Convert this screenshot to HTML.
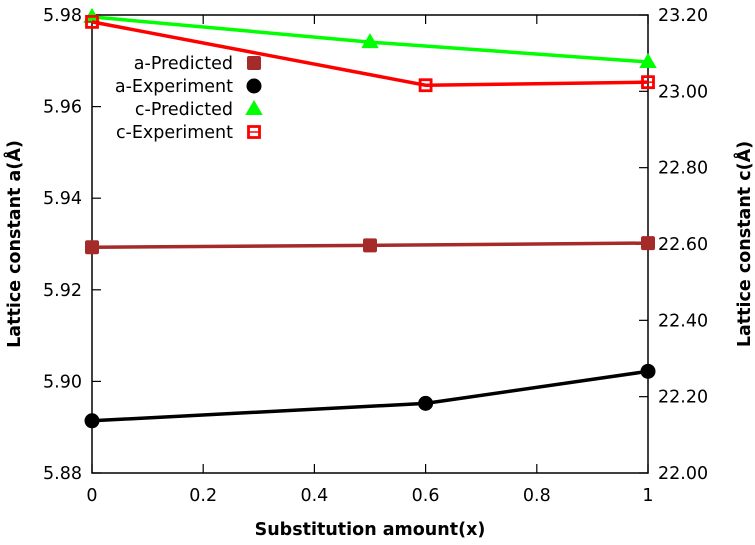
<!DOCTYPE html>
<html><head><meta charset="utf-8"><style>
html,body{margin:0;padding:0;background:#fff;}
svg text{font-family:"DejaVu Sans","Liberation Sans",sans-serif;font-size:17.5px;fill:#000;}
</style></head><body>
<svg id="chart" width="755" height="540">
<g id="axes"></g><g id="series"></g><g id="legend"></g>
</svg>
<script>
const xTicks=[0,0.2,0.4,0.6,0.8,1];
const xTickLabels=["0","0.2","0.4","0.6","0.8","1"];
const yLeftTicks=[5.88,5.90,5.92,5.94,5.96,5.98];
const yLeftLabels=["5.88","5.90","5.92","5.94","5.96","5.98"];
const yRightTicks=[22.0,22.2,22.4,22.6,22.8,23.0,23.2];
const yRightLabels=["22.00","22.20","22.40","22.60","22.80","23.00","23.20"];
const aPredX=[0,0.5,1];
const aPredY=[5.9293,5.9297,5.9302];
const aExpX=[0,0.6,1];
const aExpY=[5.8914,5.8952,5.9022];
const cPredX=[0,0.5,1];
const cPredY=[23.195,23.129,23.077];
const cExpX=[0,0.6,1];
const cExpY=[23.182,23.016,23.024];

const L=92,R=648,T=15,B=473;
const sx=v=>L+(v-0)/(1-0)*(R-L);
const syL=v=>B-(v-5.88)/(0.10)*(B-T);
const syR=v=>B-(v-22.0)/(1.2)*(B-T);
const NS="http://www.w3.org/2000/svg";
function mk(tag,attrs,parent){const e=document.createElementNS(NS,tag);for(const k in attrs)e.setAttribute(k,attrs[k]);parent.appendChild(e);return e;}
const axes=document.getElementById('axes'),ser=document.getElementById('series'),leg=document.getElementById('legend');

let f=mk('rect',{x:L,y:T,width:R-L,height:B-T,fill:'none',stroke:'#000','stroke-width':1.5},axes);

xTicks.forEach((v,i)=>{
  mk('line',{x1:sx(v),x2:sx(v),y1:B,y2:B-9,stroke:'#000','stroke-width':1.2},axes);
  mk('line',{x1:sx(v),x2:sx(v),y1:T,y2:T+9,stroke:'#000','stroke-width':1.2},axes);
  let t=mk('text',{x:sx(v),y:501,'text-anchor':'middle'},axes);t.textContent=xTickLabels[i];
  
});
yLeftTicks.forEach((v,i)=>{
  mk('line',{x1:L,x2:L+9,y1:syL(v),y2:syL(v),stroke:'#000','stroke-width':1.2},axes);
  let t=mk('text',{x:82,y:syL(v)+6,'text-anchor':'end'},axes);t.textContent=yLeftLabels[i];
  
});
yRightTicks.forEach((v,i)=>{
  mk('line',{x1:R,x2:R-9,y1:syR(v),y2:syR(v),stroke:'#000','stroke-width':1.2},axes);
  let t=mk('text',{x:658,y:syR(v)+6,'text-anchor':'start'},axes);t.textContent=yRightLabels[i];
  
});
let xt=mk('text',{x:370,y:535,'text-anchor':'middle','font-weight':'bold'},axes);xt.textContent='Substitution amount(x)';

let yl=mk('text',{x:0,y:0,'text-anchor':'middle','font-weight':'bold',transform:'translate(20,244) rotate(-90)'},axes);yl.textContent='Lattice constant a(Å)';

let yr=mk('text',{x:0,y:0,'text-anchor':'middle','font-weight':'bold',transform:'translate(750,244) rotate(-90)'},axes);yr.textContent='Lattice constant c(Å)';


function marker(kind,color,x,y,parent){
  if(kind==='sq') return mk('rect',{x:x-7,y:y-7,width:14,height:14,rx:2,fill:color},parent);
  if(kind==='circ') return mk('circle',{cx:x,cy:y,r:7.5,fill:color},parent);
  if(kind==='tri') return mk('path',{d:`M${x},${y-7}L${x+7},${y+5}L${x-7},${y+5}Z`,fill:color,stroke:color,'stroke-width':2},parent);
  if(kind==='osq'){const g=mk('g',{},parent);mk('rect',{x:x-5.5,y:y-5.5,width:11,height:11,fill:'none',stroke:color,'stroke-width':2.8},g);mk('line',{x1:x-5,x2:x+5,y1:y,y2:y,stroke:color,'stroke-width':1.5},g);return g;}
}
const defs=[
 {name:'a-Predicted',xs:aPredX,ys:aPredY,sy:syL,color:'#a52a2a',m:'sq'},
 {name:'a-Experiment',xs:aExpX,ys:aExpY,sy:syL,color:'#000',m:'circ'},
 {name:'c-Predicted',xs:cPredX,ys:cPredY,sy:syR,color:'#00ff00',m:'tri'},
 {name:'c-Experiment',xs:cExpX,ys:cExpY,sy:syR,color:'#ff0000',m:'osq'}];
defs.forEach((d,k)=>{
  const g=mk('g',{},ser);
  
  
  const pts=d.xs.map((x,i)=>sx(x)+','+d.sy(d.ys[i])).join(' ');
  mk('polyline',{points:pts,fill:'none',stroke:d.color,'stroke-width':3.5},g);
  d.xs.forEach((x,i)=>{const m=marker(d.m,d.color,sx(x),d.sy(d.ys[i]),g);
    
    });
  const ly=63+k*23;
  const lg=mk('g',{},leg);
  
  
  const t=mk('text',{x:233,y:ly+6,'text-anchor':'end'},lg);t.textContent=d.name;
  marker(d.m,d.color,254,ly,lg);
});
</script>
</body></html>
